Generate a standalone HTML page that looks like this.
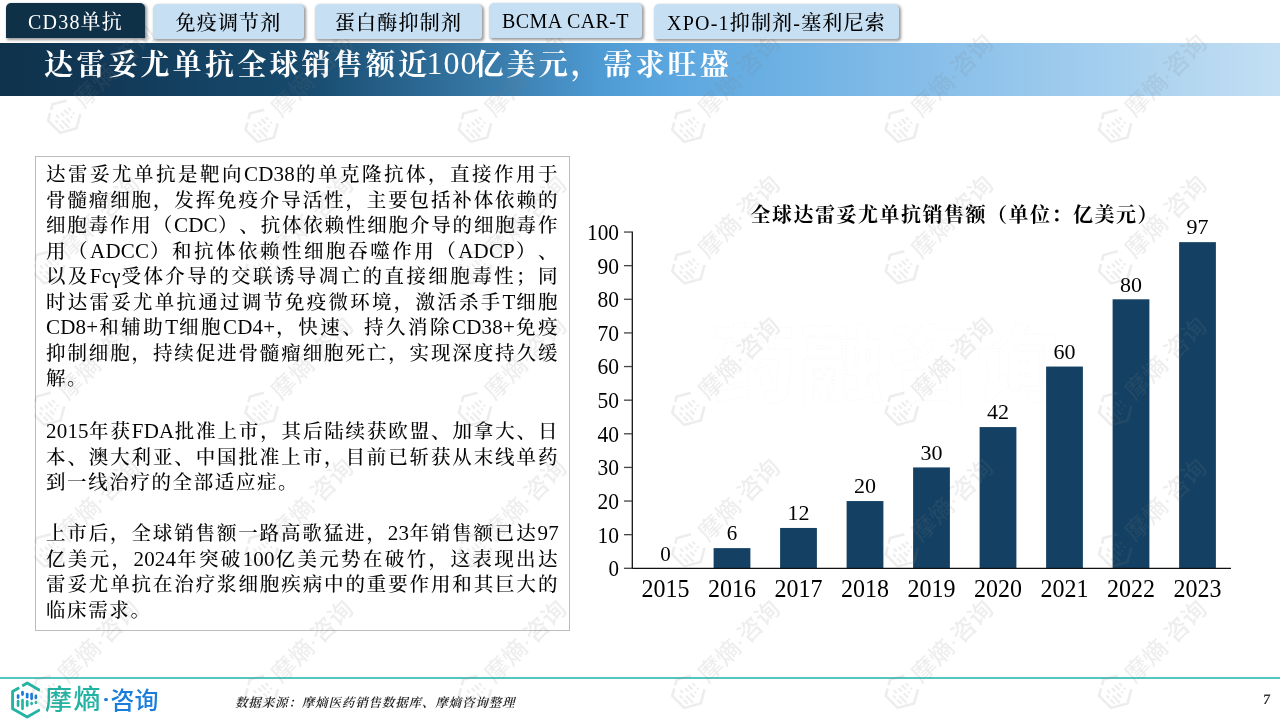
<!DOCTYPE html>
<html lang="zh-CN">
<head>
<meta charset="utf-8">
<title>达雷妥尤单抗全球销售额近100亿美元，需求旺盛</title>
<style>
*{margin:0;padding:0;box-sizing:border-box;}
html,body{width:1280px;height:720px;overflow:hidden;background:#fff;}
body{position:relative;font-family:"Liberation Serif","Noto Serif CJK SC",serif;color:#111;}
.tab{position:absolute;height:35px;border-radius:5px 5px 3px 3px;background:#c6dff3;color:#000;font-weight:500;
  font-size:20px;line-height:35px;text-align:center;white-space:nowrap;
  box-shadow:1.2px 1.2px 3px rgba(0,0,0,0.4);letter-spacing:1.2px;padding-top:2px;}
.tab.active{background:#0f3148;color:#fff;border-radius:5px 5px 0 0;}
.titlebar{position:absolute;left:0;top:43px;width:1280px;height:53px;
  background:linear-gradient(90deg,#0e324b 0px,#123856 100px,#144263 200px,#16496c 300px,#28638c 400px,#3a7dac 500px,#4e9ad3 600px,#5da8e0 680px,#68aee2 750px,#82bbe8 900px,#a3ceee 1100px,#c4dff3 1280px);}
.title{position:absolute;left:44px;top:37.5px;height:53px;line-height:53px;color:#fff;font-weight:bold;font-size:29px;letter-spacing:3.2px;white-space:nowrap;}
.tnum{font-weight:normal;font-size:32px;letter-spacing:1px;margin-left:-4px;margin-right:-3px;position:relative;top:-1px;}
.box{position:absolute;left:35px;top:156px;width:535px;height:475px;border:1.6px solid #bdbdbd;}
.txt{position:absolute;left:46px;top:162px;letter-spacing:1.6px;width:513px;font-size:19.5px;line-height:25.5px;color:#050505;font-weight:500;text-spacing-trim:space-all;}
.txt .l{text-align:justify;text-align-last:justify;white-space:nowrap;height:25.5px;}
.txt .e{height:25.5px;}
.txt .e{text-align:left;}
.txt .en{font-size:21px;letter-spacing:0.2px;}
.txt .gap{height:25.5px;}
.footline{position:absolute;left:0;top:677.3px;width:1280px;height:1.9px;background:#55c6bf;}
.src{position:absolute;left:235px;top:693px;font-size:12.5px;font-style:italic;font-weight:600;color:#222;letter-spacing:0.85px;white-space:nowrap;}
.pnum{position:absolute;left:1263px;top:691px;font-size:14.5px;font-weight:bold;color:#333;transform:skewX(-6deg);}
.chart{position:absolute;left:0;top:0;font-family:"Liberation Serif","Noto Serif CJK SC",serif;}
.wm{position:absolute;left:0;top:0;pointer-events:none;}
.logo{position:absolute;left:10px;top:682px;}
.lt{position:absolute;top:684px;font-family:"Noto Sans CJK SC",sans-serif;font-size:26px;line-height:30px;font-weight:500;letter-spacing:2.6px;white-space:nowrap;}
.ldot{position:absolute;left:104.3px;top:697.5px;width:3.6px;height:3.6px;border-radius:50%;background:#1a7ddc;}
</style>
</head>
<body>

<div class="titlebar"></div>
<div class="title">达雷妥尤单抗全球销售额近<span class="tnum">100</span>亿美元，需求旺盛</div>

<div class="box"></div>
<div class="txt">
<div class="l">达雷妥尤单抗是靶向<span class="en">CD38</span>的单克隆抗体，直接作用于</div>
<div class="l">骨髓瘤细胞，发挥免疫介导活性，主要包括补体依赖的</div>
<div class="l">细胞毒作用（<span class="en">CDC</span>）、抗体依赖性细胞介导的细胞毒作</div>
<div class="l">用（<span class="en">ADCC</span>）和抗体依赖性细胞吞噬作用（<span class="en">ADCP</span>）、</div>
<div class="l">以及<span class="en">Fcγ</span>受体介导的交联诱导凋亡的直接细胞毒性；同</div>
<div class="l">时达雷妥尤单抗通过调节免疫微环境，激活杀手<span class="en">T</span>细胞</div>
<div class="l"><span class="en">CD8+</span>和辅助<span class="en">T</span>细胞<span class="en">CD4+</span>，快速、持久消除<span class="en">CD38+</span>免疫</div>
<div class="l">抑制细胞，持续促进骨髓瘤细胞死亡，实现深度持久缓</div>
<div class="e">解。</div>
<div class="gap" style="height:27.5px"></div>
<div class="l"><span class="en">2015</span>年获<span class="en">FDA</span>批准上市，其后陆续获欧盟、加拿大、日</div>
<div class="l">本、澳大利亚、中国批准上市，目前已斩获从末线单药</div>
<div class="e">到一线治疗的全部适应症。</div>
<div class="gap"></div>
<div class="l">上市后，全球销售额一路高歌猛进，<span class="en">23</span>年销售额已达<span class="en">97</span></div>
<div class="l">亿美元，<span class="en">2024</span>年突破<span class="en">100</span>亿美元势在破竹，这表现出达</div>
<div class="l">雷妥尤单抗在治疗浆细胞疾病中的重要作用和其巨大的</div>
<div class="e">临床需求。</div>
</div>

<svg class="chart" width="1280" height="720" viewBox="0 0 1280 720">
<text x="954.7" y="222" text-anchor="middle" font-size="20" font-weight="bold" letter-spacing="1.5" fill="#000">全球达雷妥尤单抗销售额（单位：亿美元）</text>
<text x="660.25" y="560.50" font-size="22" textLength="10.5" lengthAdjust="spacingAndGlyphs" fill="#000">0</text>
<text x="641.50" y="597.2" font-size="25.5" textLength="48" lengthAdjust="spacingAndGlyphs" fill="#000">2015</text>
<rect x="713.60" y="548.12" width="36.8" height="20.17" fill="#144163"/>
<text x="726.75" y="540.33" font-size="22" textLength="10.5" lengthAdjust="spacingAndGlyphs" fill="#000">6</text>
<text x="708.00" y="597.2" font-size="25.5" textLength="48" lengthAdjust="spacingAndGlyphs" fill="#000">2016</text>
<rect x="780.10" y="527.95" width="36.8" height="40.35" fill="#144163"/>
<text x="787.50" y="520.15" font-size="22" textLength="22" lengthAdjust="spacingAndGlyphs" fill="#000">12</text>
<text x="774.50" y="597.2" font-size="25.5" textLength="48" lengthAdjust="spacingAndGlyphs" fill="#000">2017</text>
<rect x="846.60" y="501.05" width="36.8" height="67.25" fill="#144163"/>
<text x="854.00" y="493.25" font-size="22" textLength="22" lengthAdjust="spacingAndGlyphs" fill="#000">20</text>
<text x="841.00" y="597.2" font-size="25.5" textLength="48" lengthAdjust="spacingAndGlyphs" fill="#000">2018</text>
<rect x="913.10" y="467.42" width="36.8" height="100.88" fill="#144163"/>
<text x="920.50" y="459.62" font-size="22" textLength="22" lengthAdjust="spacingAndGlyphs" fill="#000">30</text>
<text x="907.50" y="597.2" font-size="25.5" textLength="48" lengthAdjust="spacingAndGlyphs" fill="#000">2019</text>
<rect x="979.60" y="427.07" width="36.8" height="141.22" fill="#144163"/>
<text x="987.00" y="419.27" font-size="22" textLength="22" lengthAdjust="spacingAndGlyphs" fill="#000">42</text>
<text x="974.00" y="597.2" font-size="25.5" textLength="48" lengthAdjust="spacingAndGlyphs" fill="#000">2020</text>
<rect x="1046.10" y="366.55" width="36.8" height="201.75" fill="#144163"/>
<text x="1053.50" y="358.75" font-size="22" textLength="22" lengthAdjust="spacingAndGlyphs" fill="#000">60</text>
<text x="1040.50" y="597.2" font-size="25.5" textLength="48" lengthAdjust="spacingAndGlyphs" fill="#000">2021</text>
<rect x="1112.60" y="299.30" width="36.8" height="269.00" fill="#144163"/>
<text x="1120.00" y="291.50" font-size="22" textLength="22" lengthAdjust="spacingAndGlyphs" fill="#000">80</text>
<text x="1107.00" y="597.2" font-size="25.5" textLength="48" lengthAdjust="spacingAndGlyphs" fill="#000">2022</text>
<rect x="1179.10" y="242.14" width="36.8" height="326.16" fill="#144163"/>
<text x="1186.50" y="234.34" font-size="22" textLength="22" lengthAdjust="spacingAndGlyphs" fill="#000">97</text>
<text x="1173.50" y="597.2" font-size="25.5" textLength="48" lengthAdjust="spacingAndGlyphs" fill="#000">2023</text>
<line x1="632.3" y1="231.45" x2="632.3" y2="568.90" stroke="#111" stroke-width="1.3"/>
<line x1="631.70" y1="568.3" x2="1231" y2="568.3" stroke="#111" stroke-width="1.3"/>
<line x1="624" y1="568.30" x2="632.3" y2="568.30" stroke="#444" stroke-width="1.3"/>
<text x="608.50" y="576.20" font-size="22.5" textLength="10.5" lengthAdjust="spacingAndGlyphs" fill="#000">0</text>
<line x1="624" y1="534.67" x2="632.3" y2="534.67" stroke="#444" stroke-width="1.3"/>
<text x="597.50" y="542.57" font-size="22.5" textLength="21.5" lengthAdjust="spacingAndGlyphs" fill="#000">10</text>
<line x1="624" y1="501.05" x2="632.3" y2="501.05" stroke="#444" stroke-width="1.3"/>
<text x="597.50" y="508.95" font-size="22.5" textLength="21.5" lengthAdjust="spacingAndGlyphs" fill="#000">20</text>
<line x1="624" y1="467.42" x2="632.3" y2="467.42" stroke="#444" stroke-width="1.3"/>
<text x="597.50" y="475.32" font-size="22.5" textLength="21.5" lengthAdjust="spacingAndGlyphs" fill="#000">30</text>
<line x1="624" y1="433.80" x2="632.3" y2="433.80" stroke="#444" stroke-width="1.3"/>
<text x="597.50" y="441.70" font-size="22.5" textLength="21.5" lengthAdjust="spacingAndGlyphs" fill="#000">40</text>
<line x1="624" y1="400.17" x2="632.3" y2="400.17" stroke="#444" stroke-width="1.3"/>
<text x="597.50" y="408.07" font-size="22.5" textLength="21.5" lengthAdjust="spacingAndGlyphs" fill="#000">50</text>
<line x1="624" y1="366.55" x2="632.3" y2="366.55" stroke="#444" stroke-width="1.3"/>
<text x="597.50" y="374.45" font-size="22.5" textLength="21.5" lengthAdjust="spacingAndGlyphs" fill="#000">60</text>
<line x1="624" y1="332.92" x2="632.3" y2="332.92" stroke="#444" stroke-width="1.3"/>
<text x="597.50" y="340.82" font-size="22.5" textLength="21.5" lengthAdjust="spacingAndGlyphs" fill="#000">70</text>
<line x1="624" y1="299.30" x2="632.3" y2="299.30" stroke="#444" stroke-width="1.3"/>
<text x="597.50" y="307.20" font-size="22.5" textLength="21.5" lengthAdjust="spacingAndGlyphs" fill="#000">80</text>
<line x1="624" y1="265.67" x2="632.3" y2="265.67" stroke="#444" stroke-width="1.3"/>
<text x="597.50" y="273.57" font-size="22.5" textLength="21.5" lengthAdjust="spacingAndGlyphs" fill="#000">90</text>
<line x1="624" y1="232.05" x2="632.3" y2="232.05" stroke="#444" stroke-width="1.3"/>
<text x="587.00" y="239.95" font-size="22.5" textLength="32" lengthAdjust="spacingAndGlyphs" fill="#000">100</text>
</svg>

<div class="footline"></div>
<svg class="logo" width="40" height="40" viewBox="0 0 40 40" style="position:absolute;left:0;top:680px;">
<g fill="none" stroke="#25b4a4" stroke-width="2.9" stroke-linecap="butt" stroke-linejoin="round">
<polyline points="40,10.5 27.2,3 22.2,5.9"/>
<polyline points="19.2,7.7 12.6,11.6 12.6,28.7 27.2,37.1 40,29.7"/>
</g>
<g stroke-width="2.7" stroke-linecap="round">
<line x1="18.1" y1="15.6" x2="18.1" y2="17.6" stroke="#1a7ad8"/>
<line x1="22.5" y1="12.2" x2="22.5" y2="14.6" stroke="#1a7ad8"/>
<line x1="27.2" y1="14.2" x2="27.2" y2="17.2" stroke="#1a7ad8"/>
<line x1="31.6" y1="14.2" x2="31.6" y2="18.8" stroke="#1a7ad8"/>
<line x1="35.9" y1="15.8" x2="35.9" y2="17.8" stroke="#1a7ad8"/>
<line x1="18.1" y1="21.2" x2="18.1" y2="25.6" stroke="#25b4a4"/>
<line x1="22.5" y1="20.0" x2="22.5" y2="28.8" stroke="#25b4a4"/>
<line x1="27.2" y1="21.4" x2="27.2" y2="25.6" stroke="#25b4a4"/>
<line x1="31.6" y1="23.2" x2="31.6" y2="23.8" stroke="#25b4a4"/>
<line x1="35.9" y1="22.4" x2="35.9" y2="22.8" stroke="#25b4a4"/>
</g>
</svg>
<div class="lt" style="left:45px;top:682.5px;font-size:27px;letter-spacing:1.5px;color:#22b3a2;">摩熵</div>
<div class="ldot"></div>
<div class="lt" style="left:110.5px;top:684px;font-size:24px;letter-spacing:0px;color:#1a7ddc;">咨询</div>
<div class="src">数据来源：摩熵医药销售数据库、摩熵咨询整理</div>
<div class="pnum">7</div>
<svg class="wm" width="1280" height="720" viewBox="0 0 1280 720">
<g fill="none" stroke="#000" stroke-opacity="0.028" stroke-width="1.4" stroke-dasharray="1.3 1.8" font-family="Noto Sans CJK SC, sans-serif" font-weight="900" font-size="84"><text x="712" y="395" letter-spacing="4">药融咨询</text></g>
<g transform="translate(64.5,116.3) rotate(-45)"><polyline points="12.8,-9.6 0,-17 -5,-14.1" fill="none" stroke="#7f7f7f" stroke-opacity="0.14" stroke-width="2.6"/><polyline points="-8,-12.4 -14.7,-8.5 -14.7,8.5 0,17 12.8,9.6" fill="none" stroke="#7f7f7f" stroke-opacity="0.14" stroke-width="2.6"/><path d="M-9.3,-2.6v2 M-4.9,-6v2.4 M-0.2,-4v3 M4.2,-4v4.6 M8.5,-2.4v2 M-9.3,3v4.4 M-4.9,1.8v8.8 M-0.2,3.2v4.2 M4.2,5v0.6 M8.5,4.2v0.4" stroke="#7f7f7f" stroke-opacity="0.13" stroke-width="2.2" stroke-linecap="round"/><text x="19" y="8.5" font-size="24" font-family="Noto Sans CJK SC, sans-serif" font-weight="500" fill="#7f7f7f" fill-opacity="0.135"><tspan letter-spacing="0.5">摩熵</tspan><tspan font-family="Liberation Sans, sans-serif" dx="-1">·</tspan><tspan dx="0">咨询</tspan></text></g>
<g transform="translate(261.9,125.5) rotate(-45)"><polyline points="12.8,-9.6 0,-17 -5,-14.1" fill="none" stroke="#7f7f7f" stroke-opacity="0.14" stroke-width="2.6"/><polyline points="-8,-12.4 -14.7,-8.5 -14.7,8.5 0,17 12.8,9.6" fill="none" stroke="#7f7f7f" stroke-opacity="0.14" stroke-width="2.6"/><path d="M-9.3,-2.6v2 M-4.9,-6v2.4 M-0.2,-4v3 M4.2,-4v4.6 M8.5,-2.4v2 M-9.3,3v4.4 M-4.9,1.8v8.8 M-0.2,3.2v4.2 M4.2,5v0.6 M8.5,4.2v0.4" stroke="#7f7f7f" stroke-opacity="0.13" stroke-width="2.2" stroke-linecap="round"/><text x="19" y="8.5" font-size="24" font-family="Noto Sans CJK SC, sans-serif" font-weight="500" fill="#7f7f7f" fill-opacity="0.135"><tspan letter-spacing="0.5">摩熵</tspan><tspan font-family="Liberation Sans, sans-serif" dx="-1">·</tspan><tspan dx="0">咨询</tspan></text></g>
<g transform="translate(475.3,125.5) rotate(-45)"><polyline points="12.8,-9.6 0,-17 -5,-14.1" fill="none" stroke="#7f7f7f" stroke-opacity="0.14" stroke-width="2.6"/><polyline points="-8,-12.4 -14.7,-8.5 -14.7,8.5 0,17 12.8,9.6" fill="none" stroke="#7f7f7f" stroke-opacity="0.14" stroke-width="2.6"/><path d="M-9.3,-2.6v2 M-4.9,-6v2.4 M-0.2,-4v3 M4.2,-4v4.6 M8.5,-2.4v2 M-9.3,3v4.4 M-4.9,1.8v8.8 M-0.2,3.2v4.2 M4.2,5v0.6 M8.5,4.2v0.4" stroke="#7f7f7f" stroke-opacity="0.13" stroke-width="2.2" stroke-linecap="round"/><text x="19" y="8.5" font-size="24" font-family="Noto Sans CJK SC, sans-serif" font-weight="500" fill="#7f7f7f" fill-opacity="0.135"><tspan letter-spacing="0.5">摩熵</tspan><tspan font-family="Liberation Sans, sans-serif" dx="-1">·</tspan><tspan dx="0">咨询</tspan></text></g>
<g transform="translate(688.7,125.5) rotate(-45)"><polyline points="12.8,-9.6 0,-17 -5,-14.1" fill="none" stroke="#7f7f7f" stroke-opacity="0.14" stroke-width="2.6"/><polyline points="-8,-12.4 -14.7,-8.5 -14.7,8.5 0,17 12.8,9.6" fill="none" stroke="#7f7f7f" stroke-opacity="0.14" stroke-width="2.6"/><path d="M-9.3,-2.6v2 M-4.9,-6v2.4 M-0.2,-4v3 M4.2,-4v4.6 M8.5,-2.4v2 M-9.3,3v4.4 M-4.9,1.8v8.8 M-0.2,3.2v4.2 M4.2,5v0.6 M8.5,4.2v0.4" stroke="#7f7f7f" stroke-opacity="0.13" stroke-width="2.2" stroke-linecap="round"/><text x="19" y="8.5" font-size="24" font-family="Noto Sans CJK SC, sans-serif" font-weight="500" fill="#7f7f7f" fill-opacity="0.135"><tspan letter-spacing="0.5">摩熵</tspan><tspan font-family="Liberation Sans, sans-serif" dx="-1">·</tspan><tspan dx="0">咨询</tspan></text></g>
<g transform="translate(902.1,125.5) rotate(-45)"><polyline points="12.8,-9.6 0,-17 -5,-14.1" fill="none" stroke="#7f7f7f" stroke-opacity="0.14" stroke-width="2.6"/><polyline points="-8,-12.4 -14.7,-8.5 -14.7,8.5 0,17 12.8,9.6" fill="none" stroke="#7f7f7f" stroke-opacity="0.14" stroke-width="2.6"/><path d="M-9.3,-2.6v2 M-4.9,-6v2.4 M-0.2,-4v3 M4.2,-4v4.6 M8.5,-2.4v2 M-9.3,3v4.4 M-4.9,1.8v8.8 M-0.2,3.2v4.2 M4.2,5v0.6 M8.5,4.2v0.4" stroke="#7f7f7f" stroke-opacity="0.13" stroke-width="2.2" stroke-linecap="round"/><text x="19" y="8.5" font-size="24" font-family="Noto Sans CJK SC, sans-serif" font-weight="500" fill="#7f7f7f" fill-opacity="0.135"><tspan letter-spacing="0.5">摩熵</tspan><tspan font-family="Liberation Sans, sans-serif" dx="-1">·</tspan><tspan dx="0">咨询</tspan></text></g>
<g transform="translate(1115.5,125.5) rotate(-45)"><polyline points="12.8,-9.6 0,-17 -5,-14.1" fill="none" stroke="#7f7f7f" stroke-opacity="0.14" stroke-width="2.6"/><polyline points="-8,-12.4 -14.7,-8.5 -14.7,8.5 0,17 12.8,9.6" fill="none" stroke="#7f7f7f" stroke-opacity="0.14" stroke-width="2.6"/><path d="M-9.3,-2.6v2 M-4.9,-6v2.4 M-0.2,-4v3 M4.2,-4v4.6 M8.5,-2.4v2 M-9.3,3v4.4 M-4.9,1.8v8.8 M-0.2,3.2v4.2 M4.2,5v0.6 M8.5,4.2v0.4" stroke="#7f7f7f" stroke-opacity="0.13" stroke-width="2.2" stroke-linecap="round"/><text x="19" y="8.5" font-size="24" font-family="Noto Sans CJK SC, sans-serif" font-weight="500" fill="#7f7f7f" fill-opacity="0.135"><tspan letter-spacing="0.5">摩熵</tspan><tspan font-family="Liberation Sans, sans-serif" dx="-1">·</tspan><tspan dx="0">咨询</tspan></text></g>
<g transform="translate(48.5,267.0) rotate(-45)"><polyline points="12.8,-9.6 0,-17 -5,-14.1" fill="none" stroke="#7f7f7f" stroke-opacity="0.14" stroke-width="2.6"/><polyline points="-8,-12.4 -14.7,-8.5 -14.7,8.5 0,17 12.8,9.6" fill="none" stroke="#7f7f7f" stroke-opacity="0.14" stroke-width="2.6"/><path d="M-9.3,-2.6v2 M-4.9,-6v2.4 M-0.2,-4v3 M4.2,-4v4.6 M8.5,-2.4v2 M-9.3,3v4.4 M-4.9,1.8v8.8 M-0.2,3.2v4.2 M4.2,5v0.6 M8.5,4.2v0.4" stroke="#7f7f7f" stroke-opacity="0.13" stroke-width="2.2" stroke-linecap="round"/><text x="19" y="8.5" font-size="24" font-family="Noto Sans CJK SC, sans-serif" font-weight="500" fill="#7f7f7f" fill-opacity="0.135"><tspan letter-spacing="0.5">摩熵</tspan><tspan font-family="Liberation Sans, sans-serif" dx="-1">·</tspan><tspan dx="0">咨询</tspan></text></g>
<g transform="translate(261.9,267.0) rotate(-45)"><polyline points="12.8,-9.6 0,-17 -5,-14.1" fill="none" stroke="#7f7f7f" stroke-opacity="0.14" stroke-width="2.6"/><polyline points="-8,-12.4 -14.7,-8.5 -14.7,8.5 0,17 12.8,9.6" fill="none" stroke="#7f7f7f" stroke-opacity="0.14" stroke-width="2.6"/><path d="M-9.3,-2.6v2 M-4.9,-6v2.4 M-0.2,-4v3 M4.2,-4v4.6 M8.5,-2.4v2 M-9.3,3v4.4 M-4.9,1.8v8.8 M-0.2,3.2v4.2 M4.2,5v0.6 M8.5,4.2v0.4" stroke="#7f7f7f" stroke-opacity="0.13" stroke-width="2.2" stroke-linecap="round"/><text x="19" y="8.5" font-size="24" font-family="Noto Sans CJK SC, sans-serif" font-weight="500" fill="#7f7f7f" fill-opacity="0.135"><tspan letter-spacing="0.5">摩熵</tspan><tspan font-family="Liberation Sans, sans-serif" dx="-1">·</tspan><tspan dx="0">咨询</tspan></text></g>
<g transform="translate(475.3,267.0) rotate(-45)"><polyline points="12.8,-9.6 0,-17 -5,-14.1" fill="none" stroke="#7f7f7f" stroke-opacity="0.14" stroke-width="2.6"/><polyline points="-8,-12.4 -14.7,-8.5 -14.7,8.5 0,17 12.8,9.6" fill="none" stroke="#7f7f7f" stroke-opacity="0.14" stroke-width="2.6"/><path d="M-9.3,-2.6v2 M-4.9,-6v2.4 M-0.2,-4v3 M4.2,-4v4.6 M8.5,-2.4v2 M-9.3,3v4.4 M-4.9,1.8v8.8 M-0.2,3.2v4.2 M4.2,5v0.6 M8.5,4.2v0.4" stroke="#7f7f7f" stroke-opacity="0.13" stroke-width="2.2" stroke-linecap="round"/><text x="19" y="8.5" font-size="24" font-family="Noto Sans CJK SC, sans-serif" font-weight="500" fill="#7f7f7f" fill-opacity="0.135"><tspan letter-spacing="0.5">摩熵</tspan><tspan font-family="Liberation Sans, sans-serif" dx="-1">·</tspan><tspan dx="0">咨询</tspan></text></g>
<g transform="translate(688.7,267.0) rotate(-45)"><polyline points="12.8,-9.6 0,-17 -5,-14.1" fill="none" stroke="#7f7f7f" stroke-opacity="0.14" stroke-width="2.6"/><polyline points="-8,-12.4 -14.7,-8.5 -14.7,8.5 0,17 12.8,9.6" fill="none" stroke="#7f7f7f" stroke-opacity="0.14" stroke-width="2.6"/><path d="M-9.3,-2.6v2 M-4.9,-6v2.4 M-0.2,-4v3 M4.2,-4v4.6 M8.5,-2.4v2 M-9.3,3v4.4 M-4.9,1.8v8.8 M-0.2,3.2v4.2 M4.2,5v0.6 M8.5,4.2v0.4" stroke="#7f7f7f" stroke-opacity="0.13" stroke-width="2.2" stroke-linecap="round"/><text x="19" y="8.5" font-size="24" font-family="Noto Sans CJK SC, sans-serif" font-weight="500" fill="#7f7f7f" fill-opacity="0.135"><tspan letter-spacing="0.5">摩熵</tspan><tspan font-family="Liberation Sans, sans-serif" dx="-1">·</tspan><tspan dx="0">咨询</tspan></text></g>
<g transform="translate(902.1,267.0) rotate(-45)"><polyline points="12.8,-9.6 0,-17 -5,-14.1" fill="none" stroke="#7f7f7f" stroke-opacity="0.14" stroke-width="2.6"/><polyline points="-8,-12.4 -14.7,-8.5 -14.7,8.5 0,17 12.8,9.6" fill="none" stroke="#7f7f7f" stroke-opacity="0.14" stroke-width="2.6"/><path d="M-9.3,-2.6v2 M-4.9,-6v2.4 M-0.2,-4v3 M4.2,-4v4.6 M8.5,-2.4v2 M-9.3,3v4.4 M-4.9,1.8v8.8 M-0.2,3.2v4.2 M4.2,5v0.6 M8.5,4.2v0.4" stroke="#7f7f7f" stroke-opacity="0.13" stroke-width="2.2" stroke-linecap="round"/><text x="19" y="8.5" font-size="24" font-family="Noto Sans CJK SC, sans-serif" font-weight="500" fill="#7f7f7f" fill-opacity="0.135"><tspan letter-spacing="0.5">摩熵</tspan><tspan font-family="Liberation Sans, sans-serif" dx="-1">·</tspan><tspan dx="0">咨询</tspan></text></g>
<g transform="translate(1115.5,267.0) rotate(-45)"><polyline points="12.8,-9.6 0,-17 -5,-14.1" fill="none" stroke="#7f7f7f" stroke-opacity="0.14" stroke-width="2.6"/><polyline points="-8,-12.4 -14.7,-8.5 -14.7,8.5 0,17 12.8,9.6" fill="none" stroke="#7f7f7f" stroke-opacity="0.14" stroke-width="2.6"/><path d="M-9.3,-2.6v2 M-4.9,-6v2.4 M-0.2,-4v3 M4.2,-4v4.6 M8.5,-2.4v2 M-9.3,3v4.4 M-4.9,1.8v8.8 M-0.2,3.2v4.2 M4.2,5v0.6 M8.5,4.2v0.4" stroke="#7f7f7f" stroke-opacity="0.13" stroke-width="2.2" stroke-linecap="round"/><text x="19" y="8.5" font-size="24" font-family="Noto Sans CJK SC, sans-serif" font-weight="500" fill="#7f7f7f" fill-opacity="0.135"><tspan letter-spacing="0.5">摩熵</tspan><tspan font-family="Liberation Sans, sans-serif" dx="-1">·</tspan><tspan dx="0">咨询</tspan></text></g>
<g transform="translate(48.5,408.5) rotate(-45)"><polyline points="12.8,-9.6 0,-17 -5,-14.1" fill="none" stroke="#7f7f7f" stroke-opacity="0.14" stroke-width="2.6"/><polyline points="-8,-12.4 -14.7,-8.5 -14.7,8.5 0,17 12.8,9.6" fill="none" stroke="#7f7f7f" stroke-opacity="0.14" stroke-width="2.6"/><path d="M-9.3,-2.6v2 M-4.9,-6v2.4 M-0.2,-4v3 M4.2,-4v4.6 M8.5,-2.4v2 M-9.3,3v4.4 M-4.9,1.8v8.8 M-0.2,3.2v4.2 M4.2,5v0.6 M8.5,4.2v0.4" stroke="#7f7f7f" stroke-opacity="0.13" stroke-width="2.2" stroke-linecap="round"/><text x="19" y="8.5" font-size="24" font-family="Noto Sans CJK SC, sans-serif" font-weight="500" fill="#7f7f7f" fill-opacity="0.135"><tspan letter-spacing="0.5">摩熵</tspan><tspan font-family="Liberation Sans, sans-serif" dx="-1">·</tspan><tspan dx="0">咨询</tspan></text></g>
<g transform="translate(261.9,408.5) rotate(-45)"><polyline points="12.8,-9.6 0,-17 -5,-14.1" fill="none" stroke="#7f7f7f" stroke-opacity="0.14" stroke-width="2.6"/><polyline points="-8,-12.4 -14.7,-8.5 -14.7,8.5 0,17 12.8,9.6" fill="none" stroke="#7f7f7f" stroke-opacity="0.14" stroke-width="2.6"/><path d="M-9.3,-2.6v2 M-4.9,-6v2.4 M-0.2,-4v3 M4.2,-4v4.6 M8.5,-2.4v2 M-9.3,3v4.4 M-4.9,1.8v8.8 M-0.2,3.2v4.2 M4.2,5v0.6 M8.5,4.2v0.4" stroke="#7f7f7f" stroke-opacity="0.13" stroke-width="2.2" stroke-linecap="round"/><text x="19" y="8.5" font-size="24" font-family="Noto Sans CJK SC, sans-serif" font-weight="500" fill="#7f7f7f" fill-opacity="0.135"><tspan letter-spacing="0.5">摩熵</tspan><tspan font-family="Liberation Sans, sans-serif" dx="-1">·</tspan><tspan dx="0">咨询</tspan></text></g>
<g transform="translate(475.3,408.5) rotate(-45)"><polyline points="12.8,-9.6 0,-17 -5,-14.1" fill="none" stroke="#7f7f7f" stroke-opacity="0.14" stroke-width="2.6"/><polyline points="-8,-12.4 -14.7,-8.5 -14.7,8.5 0,17 12.8,9.6" fill="none" stroke="#7f7f7f" stroke-opacity="0.14" stroke-width="2.6"/><path d="M-9.3,-2.6v2 M-4.9,-6v2.4 M-0.2,-4v3 M4.2,-4v4.6 M8.5,-2.4v2 M-9.3,3v4.4 M-4.9,1.8v8.8 M-0.2,3.2v4.2 M4.2,5v0.6 M8.5,4.2v0.4" stroke="#7f7f7f" stroke-opacity="0.13" stroke-width="2.2" stroke-linecap="round"/><text x="19" y="8.5" font-size="24" font-family="Noto Sans CJK SC, sans-serif" font-weight="500" fill="#7f7f7f" fill-opacity="0.135"><tspan letter-spacing="0.5">摩熵</tspan><tspan font-family="Liberation Sans, sans-serif" dx="-1">·</tspan><tspan dx="0">咨询</tspan></text></g>
<g transform="translate(688.7,408.5) rotate(-45)"><polyline points="12.8,-9.6 0,-17 -5,-14.1" fill="none" stroke="#7f7f7f" stroke-opacity="0.14" stroke-width="2.6"/><polyline points="-8,-12.4 -14.7,-8.5 -14.7,8.5 0,17 12.8,9.6" fill="none" stroke="#7f7f7f" stroke-opacity="0.14" stroke-width="2.6"/><path d="M-9.3,-2.6v2 M-4.9,-6v2.4 M-0.2,-4v3 M4.2,-4v4.6 M8.5,-2.4v2 M-9.3,3v4.4 M-4.9,1.8v8.8 M-0.2,3.2v4.2 M4.2,5v0.6 M8.5,4.2v0.4" stroke="#7f7f7f" stroke-opacity="0.13" stroke-width="2.2" stroke-linecap="round"/><text x="19" y="8.5" font-size="24" font-family="Noto Sans CJK SC, sans-serif" font-weight="500" fill="#7f7f7f" fill-opacity="0.135"><tspan letter-spacing="0.5">摩熵</tspan><tspan font-family="Liberation Sans, sans-serif" dx="-1">·</tspan><tspan dx="0">咨询</tspan></text></g>
<g transform="translate(902.1,408.5) rotate(-45)"><polyline points="12.8,-9.6 0,-17 -5,-14.1" fill="none" stroke="#7f7f7f" stroke-opacity="0.14" stroke-width="2.6"/><polyline points="-8,-12.4 -14.7,-8.5 -14.7,8.5 0,17 12.8,9.6" fill="none" stroke="#7f7f7f" stroke-opacity="0.14" stroke-width="2.6"/><path d="M-9.3,-2.6v2 M-4.9,-6v2.4 M-0.2,-4v3 M4.2,-4v4.6 M8.5,-2.4v2 M-9.3,3v4.4 M-4.9,1.8v8.8 M-0.2,3.2v4.2 M4.2,5v0.6 M8.5,4.2v0.4" stroke="#7f7f7f" stroke-opacity="0.13" stroke-width="2.2" stroke-linecap="round"/><text x="19" y="8.5" font-size="24" font-family="Noto Sans CJK SC, sans-serif" font-weight="500" fill="#7f7f7f" fill-opacity="0.135"><tspan letter-spacing="0.5">摩熵</tspan><tspan font-family="Liberation Sans, sans-serif" dx="-1">·</tspan><tspan dx="0">咨询</tspan></text></g>
<g transform="translate(1115.5,408.5) rotate(-45)"><polyline points="12.8,-9.6 0,-17 -5,-14.1" fill="none" stroke="#7f7f7f" stroke-opacity="0.14" stroke-width="2.6"/><polyline points="-8,-12.4 -14.7,-8.5 -14.7,8.5 0,17 12.8,9.6" fill="none" stroke="#7f7f7f" stroke-opacity="0.14" stroke-width="2.6"/><path d="M-9.3,-2.6v2 M-4.9,-6v2.4 M-0.2,-4v3 M4.2,-4v4.6 M8.5,-2.4v2 M-9.3,3v4.4 M-4.9,1.8v8.8 M-0.2,3.2v4.2 M4.2,5v0.6 M8.5,4.2v0.4" stroke="#7f7f7f" stroke-opacity="0.13" stroke-width="2.2" stroke-linecap="round"/><text x="19" y="8.5" font-size="24" font-family="Noto Sans CJK SC, sans-serif" font-weight="500" fill="#7f7f7f" fill-opacity="0.135"><tspan letter-spacing="0.5">摩熵</tspan><tspan font-family="Liberation Sans, sans-serif" dx="-1">·</tspan><tspan dx="0">咨询</tspan></text></g>
<g transform="translate(48.5,550.0) rotate(-45)"><polyline points="12.8,-9.6 0,-17 -5,-14.1" fill="none" stroke="#7f7f7f" stroke-opacity="0.14" stroke-width="2.6"/><polyline points="-8,-12.4 -14.7,-8.5 -14.7,8.5 0,17 12.8,9.6" fill="none" stroke="#7f7f7f" stroke-opacity="0.14" stroke-width="2.6"/><path d="M-9.3,-2.6v2 M-4.9,-6v2.4 M-0.2,-4v3 M4.2,-4v4.6 M8.5,-2.4v2 M-9.3,3v4.4 M-4.9,1.8v8.8 M-0.2,3.2v4.2 M4.2,5v0.6 M8.5,4.2v0.4" stroke="#7f7f7f" stroke-opacity="0.13" stroke-width="2.2" stroke-linecap="round"/><text x="19" y="8.5" font-size="24" font-family="Noto Sans CJK SC, sans-serif" font-weight="500" fill="#7f7f7f" fill-opacity="0.135"><tspan letter-spacing="0.5">摩熵</tspan><tspan font-family="Liberation Sans, sans-serif" dx="-1">·</tspan><tspan dx="0">咨询</tspan></text></g>
<g transform="translate(261.9,550.0) rotate(-45)"><polyline points="12.8,-9.6 0,-17 -5,-14.1" fill="none" stroke="#7f7f7f" stroke-opacity="0.14" stroke-width="2.6"/><polyline points="-8,-12.4 -14.7,-8.5 -14.7,8.5 0,17 12.8,9.6" fill="none" stroke="#7f7f7f" stroke-opacity="0.14" stroke-width="2.6"/><path d="M-9.3,-2.6v2 M-4.9,-6v2.4 M-0.2,-4v3 M4.2,-4v4.6 M8.5,-2.4v2 M-9.3,3v4.4 M-4.9,1.8v8.8 M-0.2,3.2v4.2 M4.2,5v0.6 M8.5,4.2v0.4" stroke="#7f7f7f" stroke-opacity="0.13" stroke-width="2.2" stroke-linecap="round"/><text x="19" y="8.5" font-size="24" font-family="Noto Sans CJK SC, sans-serif" font-weight="500" fill="#7f7f7f" fill-opacity="0.135"><tspan letter-spacing="0.5">摩熵</tspan><tspan font-family="Liberation Sans, sans-serif" dx="-1">·</tspan><tspan dx="0">咨询</tspan></text></g>
<g transform="translate(475.3,550.0) rotate(-45)"><polyline points="12.8,-9.6 0,-17 -5,-14.1" fill="none" stroke="#7f7f7f" stroke-opacity="0.14" stroke-width="2.6"/><polyline points="-8,-12.4 -14.7,-8.5 -14.7,8.5 0,17 12.8,9.6" fill="none" stroke="#7f7f7f" stroke-opacity="0.14" stroke-width="2.6"/><path d="M-9.3,-2.6v2 M-4.9,-6v2.4 M-0.2,-4v3 M4.2,-4v4.6 M8.5,-2.4v2 M-9.3,3v4.4 M-4.9,1.8v8.8 M-0.2,3.2v4.2 M4.2,5v0.6 M8.5,4.2v0.4" stroke="#7f7f7f" stroke-opacity="0.13" stroke-width="2.2" stroke-linecap="round"/><text x="19" y="8.5" font-size="24" font-family="Noto Sans CJK SC, sans-serif" font-weight="500" fill="#7f7f7f" fill-opacity="0.135"><tspan letter-spacing="0.5">摩熵</tspan><tspan font-family="Liberation Sans, sans-serif" dx="-1">·</tspan><tspan dx="0">咨询</tspan></text></g>
<g transform="translate(688.7,550.0) rotate(-45)"><polyline points="12.8,-9.6 0,-17 -5,-14.1" fill="none" stroke="#7f7f7f" stroke-opacity="0.14" stroke-width="2.6"/><polyline points="-8,-12.4 -14.7,-8.5 -14.7,8.5 0,17 12.8,9.6" fill="none" stroke="#7f7f7f" stroke-opacity="0.14" stroke-width="2.6"/><path d="M-9.3,-2.6v2 M-4.9,-6v2.4 M-0.2,-4v3 M4.2,-4v4.6 M8.5,-2.4v2 M-9.3,3v4.4 M-4.9,1.8v8.8 M-0.2,3.2v4.2 M4.2,5v0.6 M8.5,4.2v0.4" stroke="#7f7f7f" stroke-opacity="0.13" stroke-width="2.2" stroke-linecap="round"/><text x="19" y="8.5" font-size="24" font-family="Noto Sans CJK SC, sans-serif" font-weight="500" fill="#7f7f7f" fill-opacity="0.135"><tspan letter-spacing="0.5">摩熵</tspan><tspan font-family="Liberation Sans, sans-serif" dx="-1">·</tspan><tspan dx="0">咨询</tspan></text></g>
<g transform="translate(902.1,550.0) rotate(-45)"><polyline points="12.8,-9.6 0,-17 -5,-14.1" fill="none" stroke="#7f7f7f" stroke-opacity="0.14" stroke-width="2.6"/><polyline points="-8,-12.4 -14.7,-8.5 -14.7,8.5 0,17 12.8,9.6" fill="none" stroke="#7f7f7f" stroke-opacity="0.14" stroke-width="2.6"/><path d="M-9.3,-2.6v2 M-4.9,-6v2.4 M-0.2,-4v3 M4.2,-4v4.6 M8.5,-2.4v2 M-9.3,3v4.4 M-4.9,1.8v8.8 M-0.2,3.2v4.2 M4.2,5v0.6 M8.5,4.2v0.4" stroke="#7f7f7f" stroke-opacity="0.13" stroke-width="2.2" stroke-linecap="round"/><text x="19" y="8.5" font-size="24" font-family="Noto Sans CJK SC, sans-serif" font-weight="500" fill="#7f7f7f" fill-opacity="0.135"><tspan letter-spacing="0.5">摩熵</tspan><tspan font-family="Liberation Sans, sans-serif" dx="-1">·</tspan><tspan dx="0">咨询</tspan></text></g>
<g transform="translate(1115.5,550.0) rotate(-45)"><polyline points="12.8,-9.6 0,-17 -5,-14.1" fill="none" stroke="#7f7f7f" stroke-opacity="0.14" stroke-width="2.6"/><polyline points="-8,-12.4 -14.7,-8.5 -14.7,8.5 0,17 12.8,9.6" fill="none" stroke="#7f7f7f" stroke-opacity="0.14" stroke-width="2.6"/><path d="M-9.3,-2.6v2 M-4.9,-6v2.4 M-0.2,-4v3 M4.2,-4v4.6 M8.5,-2.4v2 M-9.3,3v4.4 M-4.9,1.8v8.8 M-0.2,3.2v4.2 M4.2,5v0.6 M8.5,4.2v0.4" stroke="#7f7f7f" stroke-opacity="0.13" stroke-width="2.2" stroke-linecap="round"/><text x="19" y="8.5" font-size="24" font-family="Noto Sans CJK SC, sans-serif" font-weight="500" fill="#7f7f7f" fill-opacity="0.135"><tspan letter-spacing="0.5">摩熵</tspan><tspan font-family="Liberation Sans, sans-serif" dx="-1">·</tspan><tspan dx="0">咨询</tspan></text></g>
<g transform="translate(48.5,691.5) rotate(-45)"><polyline points="12.8,-9.6 0,-17 -5,-14.1" fill="none" stroke="#7f7f7f" stroke-opacity="0.14" stroke-width="2.6"/><polyline points="-8,-12.4 -14.7,-8.5 -14.7,8.5 0,17 12.8,9.6" fill="none" stroke="#7f7f7f" stroke-opacity="0.14" stroke-width="2.6"/><path d="M-9.3,-2.6v2 M-4.9,-6v2.4 M-0.2,-4v3 M4.2,-4v4.6 M8.5,-2.4v2 M-9.3,3v4.4 M-4.9,1.8v8.8 M-0.2,3.2v4.2 M4.2,5v0.6 M8.5,4.2v0.4" stroke="#7f7f7f" stroke-opacity="0.13" stroke-width="2.2" stroke-linecap="round"/><text x="19" y="8.5" font-size="24" font-family="Noto Sans CJK SC, sans-serif" font-weight="500" fill="#7f7f7f" fill-opacity="0.135"><tspan letter-spacing="0.5">摩熵</tspan><tspan font-family="Liberation Sans, sans-serif" dx="-1">·</tspan><tspan dx="0">咨询</tspan></text></g>
<g transform="translate(261.9,691.5) rotate(-45)"><polyline points="12.8,-9.6 0,-17 -5,-14.1" fill="none" stroke="#7f7f7f" stroke-opacity="0.14" stroke-width="2.6"/><polyline points="-8,-12.4 -14.7,-8.5 -14.7,8.5 0,17 12.8,9.6" fill="none" stroke="#7f7f7f" stroke-opacity="0.14" stroke-width="2.6"/><path d="M-9.3,-2.6v2 M-4.9,-6v2.4 M-0.2,-4v3 M4.2,-4v4.6 M8.5,-2.4v2 M-9.3,3v4.4 M-4.9,1.8v8.8 M-0.2,3.2v4.2 M4.2,5v0.6 M8.5,4.2v0.4" stroke="#7f7f7f" stroke-opacity="0.13" stroke-width="2.2" stroke-linecap="round"/><text x="19" y="8.5" font-size="24" font-family="Noto Sans CJK SC, sans-serif" font-weight="500" fill="#7f7f7f" fill-opacity="0.135"><tspan letter-spacing="0.5">摩熵</tspan><tspan font-family="Liberation Sans, sans-serif" dx="-1">·</tspan><tspan dx="0">咨询</tspan></text></g>
<g transform="translate(475.3,691.5) rotate(-45)"><polyline points="12.8,-9.6 0,-17 -5,-14.1" fill="none" stroke="#7f7f7f" stroke-opacity="0.14" stroke-width="2.6"/><polyline points="-8,-12.4 -14.7,-8.5 -14.7,8.5 0,17 12.8,9.6" fill="none" stroke="#7f7f7f" stroke-opacity="0.14" stroke-width="2.6"/><path d="M-9.3,-2.6v2 M-4.9,-6v2.4 M-0.2,-4v3 M4.2,-4v4.6 M8.5,-2.4v2 M-9.3,3v4.4 M-4.9,1.8v8.8 M-0.2,3.2v4.2 M4.2,5v0.6 M8.5,4.2v0.4" stroke="#7f7f7f" stroke-opacity="0.13" stroke-width="2.2" stroke-linecap="round"/><text x="19" y="8.5" font-size="24" font-family="Noto Sans CJK SC, sans-serif" font-weight="500" fill="#7f7f7f" fill-opacity="0.135"><tspan letter-spacing="0.5">摩熵</tspan><tspan font-family="Liberation Sans, sans-serif" dx="-1">·</tspan><tspan dx="0">咨询</tspan></text></g>
<g transform="translate(688.7,691.5) rotate(-45)"><polyline points="12.8,-9.6 0,-17 -5,-14.1" fill="none" stroke="#7f7f7f" stroke-opacity="0.14" stroke-width="2.6"/><polyline points="-8,-12.4 -14.7,-8.5 -14.7,8.5 0,17 12.8,9.6" fill="none" stroke="#7f7f7f" stroke-opacity="0.14" stroke-width="2.6"/><path d="M-9.3,-2.6v2 M-4.9,-6v2.4 M-0.2,-4v3 M4.2,-4v4.6 M8.5,-2.4v2 M-9.3,3v4.4 M-4.9,1.8v8.8 M-0.2,3.2v4.2 M4.2,5v0.6 M8.5,4.2v0.4" stroke="#7f7f7f" stroke-opacity="0.13" stroke-width="2.2" stroke-linecap="round"/><text x="19" y="8.5" font-size="24" font-family="Noto Sans CJK SC, sans-serif" font-weight="500" fill="#7f7f7f" fill-opacity="0.135"><tspan letter-spacing="0.5">摩熵</tspan><tspan font-family="Liberation Sans, sans-serif" dx="-1">·</tspan><tspan dx="0">咨询</tspan></text></g>
<g transform="translate(902.1,691.5) rotate(-45)"><polyline points="12.8,-9.6 0,-17 -5,-14.1" fill="none" stroke="#7f7f7f" stroke-opacity="0.14" stroke-width="2.6"/><polyline points="-8,-12.4 -14.7,-8.5 -14.7,8.5 0,17 12.8,9.6" fill="none" stroke="#7f7f7f" stroke-opacity="0.14" stroke-width="2.6"/><path d="M-9.3,-2.6v2 M-4.9,-6v2.4 M-0.2,-4v3 M4.2,-4v4.6 M8.5,-2.4v2 M-9.3,3v4.4 M-4.9,1.8v8.8 M-0.2,3.2v4.2 M4.2,5v0.6 M8.5,4.2v0.4" stroke="#7f7f7f" stroke-opacity="0.13" stroke-width="2.2" stroke-linecap="round"/><text x="19" y="8.5" font-size="24" font-family="Noto Sans CJK SC, sans-serif" font-weight="500" fill="#7f7f7f" fill-opacity="0.135"><tspan letter-spacing="0.5">摩熵</tspan><tspan font-family="Liberation Sans, sans-serif" dx="-1">·</tspan><tspan dx="0">咨询</tspan></text></g>
<g transform="translate(1115.5,691.5) rotate(-45)"><polyline points="12.8,-9.6 0,-17 -5,-14.1" fill="none" stroke="#7f7f7f" stroke-opacity="0.14" stroke-width="2.6"/><polyline points="-8,-12.4 -14.7,-8.5 -14.7,8.5 0,17 12.8,9.6" fill="none" stroke="#7f7f7f" stroke-opacity="0.14" stroke-width="2.6"/><path d="M-9.3,-2.6v2 M-4.9,-6v2.4 M-0.2,-4v3 M4.2,-4v4.6 M8.5,-2.4v2 M-9.3,3v4.4 M-4.9,1.8v8.8 M-0.2,3.2v4.2 M4.2,5v0.6 M8.5,4.2v0.4" stroke="#7f7f7f" stroke-opacity="0.13" stroke-width="2.2" stroke-linecap="round"/><text x="19" y="8.5" font-size="24" font-family="Noto Sans CJK SC, sans-serif" font-weight="500" fill="#7f7f7f" fill-opacity="0.135"><tspan letter-spacing="0.5">摩熵</tspan><tspan font-family="Liberation Sans, sans-serif" dx="-1">·</tspan><tspan dx="0">咨询</tspan></text></g>
<rect x="0" y="155" width="34.2" height="477" fill="#fff"/>
</svg>
<div class="tab active" style="left:6px;top:3px;width:139px;">CD38单抗</div>
<div class="tab" style="left:153px;top:3.5px;width:151px;">免疫调节剂</div>
<div class="tab" style="left:315px;top:3.5px;width:167px;">蛋白酶抑制剂</div>
<div class="tab" style="left:489px;top:2.5px;width:153px;letter-spacing:0.4px;padding-top:1px;">BCMA CAR-T</div>
<div class="tab" style="left:654px;top:3.5px;width:245px;">XPO-1抑制剂-塞利尼索</div>
</body>
</html>
